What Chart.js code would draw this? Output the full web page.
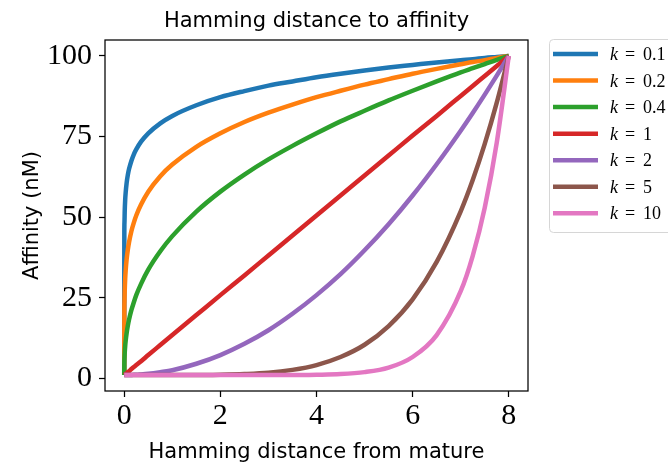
<!DOCTYPE html>
<html><head><meta charset="utf-8">
<script src="https://cdn.jsdelivr.net/npm/chart.js@4"></script>
<style>html,body{margin:0;padding:0;background:#fff;overflow:hidden}#wrap{width:668px;height:466px;position:relative}</style>
</head><body><div id="wrap"><canvas id="c" width="668" height="466"></canvas></div>
<script>
// ---- data ----
const xs = [0, 0.002, 0.005, 0.01, 0.02, 0.03, 0.05, 0.075, 0.1, 0.15, 0.2, 0.25, 0.35, 0.5, 0.75, 1, 1.5, 2, 2.5, 3, 3.5, 4, 4.5, 5, 5.5, 6, 6.5, 7, 7.25, 7.5, 7.75, 8];
const kLabels = ['0.1', '0.2', '0.4', '1', '2', '5', '10'];
const k01 = [1, 44.2, 48.3, 51.7, 55.4, 57.6, 60.6, 63.1, 64.9, 67.5, 69.5, 71.0, 73.4, 76.0, 79.1, 81.4, 84.7, 87.2, 89.1, 90.8, 92.1, 93.4, 94.5, 95.5, 96.4, 97.2, 98.0, 98.7, 99.0, 99.4, 99.7, 100];
const k02 = [1, 19.8, 23.6, 27.0, 30.9, 33.4, 36.9, 39.9, 42.2, 45.7, 48.3, 50.5, 53.9, 57.9, 62.7, 66.3, 71.8, 76.0, 79.5, 82.4, 84.9, 87.2, 89.2, 91.1, 92.8, 94.5, 96.0, 97.4, 98.1, 98.7, 99.4, 100];
const k04 = [1, 4.6, 6.2, 7.8, 10.0, 11.6, 14.0, 16.3, 18.2, 21.2, 23.6, 25.8, 29.3, 33.7, 39.4, 44.1, 51.7, 57.9, 63.2, 67.9, 72.1, 76.0, 79.7, 83.0, 86.2, 89.2, 92.1, 94.9, 96.2, 97.5, 98.8, 100];
const k1 = [1, 1.02, 1.06, 1.1, 1.25, 1.37, 1.6, 1.93, 2.2, 2.86, 3.5, 4.1, 5.3, 7.2, 10.3, 13.4, 19.6, 25.8, 31.9, 38.1, 44.3, 50.5, 56.7, 62.9, 69.1, 75.3, 81.4, 87.6, 90.7, 93.8, 96.9, 100];
const k2 = [1, 1, 1, 1.0, 1, 1, 1.0, 1, 1.0, 1.0, 1.1, 1.1, 1.2, 1.4, 1.9, 2.5, 4.5, 7.2, 10.7, 14.9, 20.0, 25.8, 32.3, 39.7, 47.8, 56.7, 66.4, 76.8, 82.3, 88.0, 93.9, 100];
const k5 = [1, 1, 1, 1, 1, 1, 1, 1, 1, 1, 1, 1, 1, 1, 1, 1.0, 1.0, 1.1, 1.3, 1.7, 2.6, 4.1, 6.6, 10.4, 16.2, 24.5, 36.1, 51.8, 61.5, 72.7, 85.5, 100];
const k10 = [1, 1, 1, 1, 1, 1, 1, 1, 1, 1, 1, 1, 1, 1, 1, 1, 1, 1, 1, 1.0, 1.0, 1.1, 1.3, 1.9, 3.3, 6.6, 13.4, 27.0, 38.0, 52.9, 73.1, 100];
const seriesValues = [k01, k02, k04, k1, k2, k5, k10];
const xTicks = [0, 2, 4, 6, 8];
const yTicks = [0, 25, 50, 75, 100];
const titleText = 'Hamming distance to affinity';
const xLabel = 'Hamming distance from mature';
const yLabel = 'Affinity (nM)';

// ---- styles ----
const colors = ['#1f77b4', '#ff7f0e', '#2ca02c', '#d62728', '#9467bd', '#8c564b', '#e377c2'];
const sans = '"DejaVu Sans", sans-serif';
const serif = '"Liberation Serif", "DejaVu Serif", serif';

const datasets = seriesValues.map((vals, i) => ({
  label: 'k = ' + kLabels[i],
  data: xs.map((x, j) => ({ x: x, y: vals[j] })),
  borderColor: colors[i],
  backgroundColor: colors[i],
  borderWidth: 4.5,
  pointRadius: 0,
  fill: false,
  cubicInterpolationMode: 'monotone',
  order: seriesValues.length - 1 - i
}));

const decor = {
  id: 'decor',
  afterDatasetsDraw(chart) {
    const ctx = chart.ctx, a = chart.chartArea;
    ctx.save();
    // frame
    ctx.strokeStyle = '#000';
    ctx.lineWidth = 1.25;
    ctx.strokeRect(a.left, a.top, a.right - a.left, a.bottom - a.top);
    // title and axis labels
    ctx.fillStyle = '#000';
    ctx.font = '21px ' + sans;
    ctx.textAlign = 'center';
    ctx.textBaseline = 'alphabetic';
    const cx = (a.left + a.right) / 2;
    ctx.fillText(titleText, cx, 27);
    ctx.fillText(xLabel, cx, 458);
    ctx.save();
    ctx.translate(38, (a.top + a.bottom) / 2);
    ctx.rotate(-Math.PI / 2);
    ctx.fillText(yLabel, 0, 0);
    ctx.restore();
    // legend (outside, right, clipped by the window)
    const lx = 549, ly = 39, lw = 140, lh = 193;
    ctx.beginPath();
    if (ctx.roundRect) ctx.roundRect(lx + 0.5, ly + 0.5, lw, lh, 4); else ctx.rect(lx + 0.5, ly + 0.5, lw, lh);
    ctx.fillStyle = 'rgba(255,255,255,0.8)';
    ctx.fill();
    ctx.strokeStyle = '#d6d6d6';
    ctx.lineWidth = 1;
    ctx.stroke();
    chart.data.datasets.forEach((ds, i) => {
      const y = 54 + i * 26.55;
      ctx.strokeStyle = ds.borderColor;
      ctx.lineWidth = 4.5;
      ctx.beginPath();
      ctx.moveTo(553, y);
      ctx.lineTo(598, y);
      ctx.stroke();
      ctx.fillStyle = '#000';
      ctx.textAlign = 'left';
      ctx.textBaseline = 'alphabetic';
      ctx.font = 'italic 18px ' + serif;
      ctx.fillText('k', 610, y + 6);
      ctx.font = '18px ' + serif;
      ctx.fillText('=', 625, y + 6);
      ctx.fillText(kLabels[i], 643, y + 6);
    });
    ctx.restore();
  }
};

new Chart(document.getElementById('c'), {
  type: 'line',
  data: { datasets: datasets },
  plugins: [decor],
  options: {
    responsive: false,
    animation: false,
    devicePixelRatio: 1,
    layout: { padding: { left: 0, top: 40, right: 140, bottom: 0 } },
    plugins: { legend: { display: false }, tooltip: { enabled: false }, title: { display: false } },
    scales: {
      x: {
        type: 'linear', min: -0.4, max: 8.4,
        afterBuildTicks: s => { s.ticks = xTicks.map(v => ({ value: v })); },
        afterFit: s => { s.height = 75; },
        grid: { drawOnChartArea: false, drawTicks: true, tickLength: 6, tickWidth: 1.25, tickColor: '#000' },
        border: { display: false },
        ticks: { font: { family: serif, size: 30 }, color: '#000', padding: 1, maxRotation: 0, autoSkip: false }
      },
      y: {
        type: 'linear', min: -3.95, max: 104.95,
        afterBuildTicks: s => { s.ticks = yTicks.map(v => ({ value: v })); },
        afterFit: s => { s.width = 105; },
        grid: { drawOnChartArea: false, drawTicks: true, tickLength: 6, tickWidth: 1.25, tickColor: '#000' },
        border: { display: false },
        ticks: { font: { family: serif, size: 30 }, color: '#000', padding: 7, autoSkip: false }
      }
    }
  }
});
</script>
</body></html>
